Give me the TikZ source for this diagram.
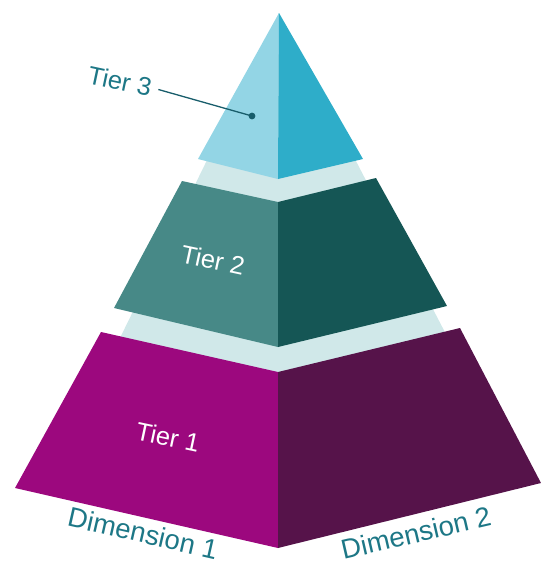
\documentclass[tikz,border=0pt]{standalone}
\usepackage{fontspec}
\setmainfont{Liberation Sans}

\definecolor{bandpale}{HTML}{D0E8E9}
\definecolor{topL}{HTML}{93D5E5}
\definecolor{topR}{HTML}{2EADC9}
\definecolor{midL}{HTML}{478987}
\definecolor{midR}{HTML}{155655}
\definecolor{lowL}{HTML}{9C087E}
\definecolor{lowR}{HTML}{56134A}
\definecolor{labteal}{HTML}{1D7786}
\definecolor{leadteal}{HTML}{185D6B}

\begin{document}
\begin{tikzpicture}[x=1pt,y=-1pt,
  tiertext/.style={text=white,font=\fontsize{25.5}{25.5}\selectfont,inner sep=2pt,rotate=-12},
  dimtext/.style={text=labteal,font=\fontsize{27.5}{27.5}\selectfont,inner sep=1pt},
  leader/.style={draw=leadteal,line width=1.3pt,shorten <=5pt}]
\useasboundingbox (0,0) rectangle (541,566);

% pale silhouette showing through the gaps between tiers
\fill[bandpale] (279,13) -- (119,340) -- (278,380) -- (449,340) -- cycle;

% tier 1 (bottom)
\fill[lowL] (101,332) -- (278,372) -- (278,548) -- (15,488) -- cycle;
\fill[lowR] (278,372) -- (460,328) -- (541,483) -- (278,548) -- cycle;

% tier 2 (middle)
\fill[midL] (182,181) -- (278,202) -- (278,347) -- (114,308) -- cycle;
\fill[midR] (278,202) -- (376,178) -- (447,306) -- (278,347) -- cycle;

% tier 3 (top)
\fill[topL] (279,13) -- (198,159) -- (278,179) -- cycle;
\fill[topR] (279,13) -- (278,179) -- (363,159) -- cycle;

% labels
\node[tiertext] (t1) at (168,437) {Tier 1};
\node[tiertext] (t2) at (213,260) {Tier 2};
\node[tiertext,text=labteal] (t3) at (120,81) {Tier 3};
\node[dimtext,rotate=-12.8] (d1) at (143,533) {Dimension 1};
\node[dimtext,rotate=13] (d2) at (416,533) {Dimension 2};

% leader from the Tier 3 label to its dot
\coordinate (t3dot) at (252,116);
\draw[leader] (t3.east) -- (t3dot);
\fill[leadteal] (t3dot) circle (3.4pt);
\end{tikzpicture}
\end{document}
